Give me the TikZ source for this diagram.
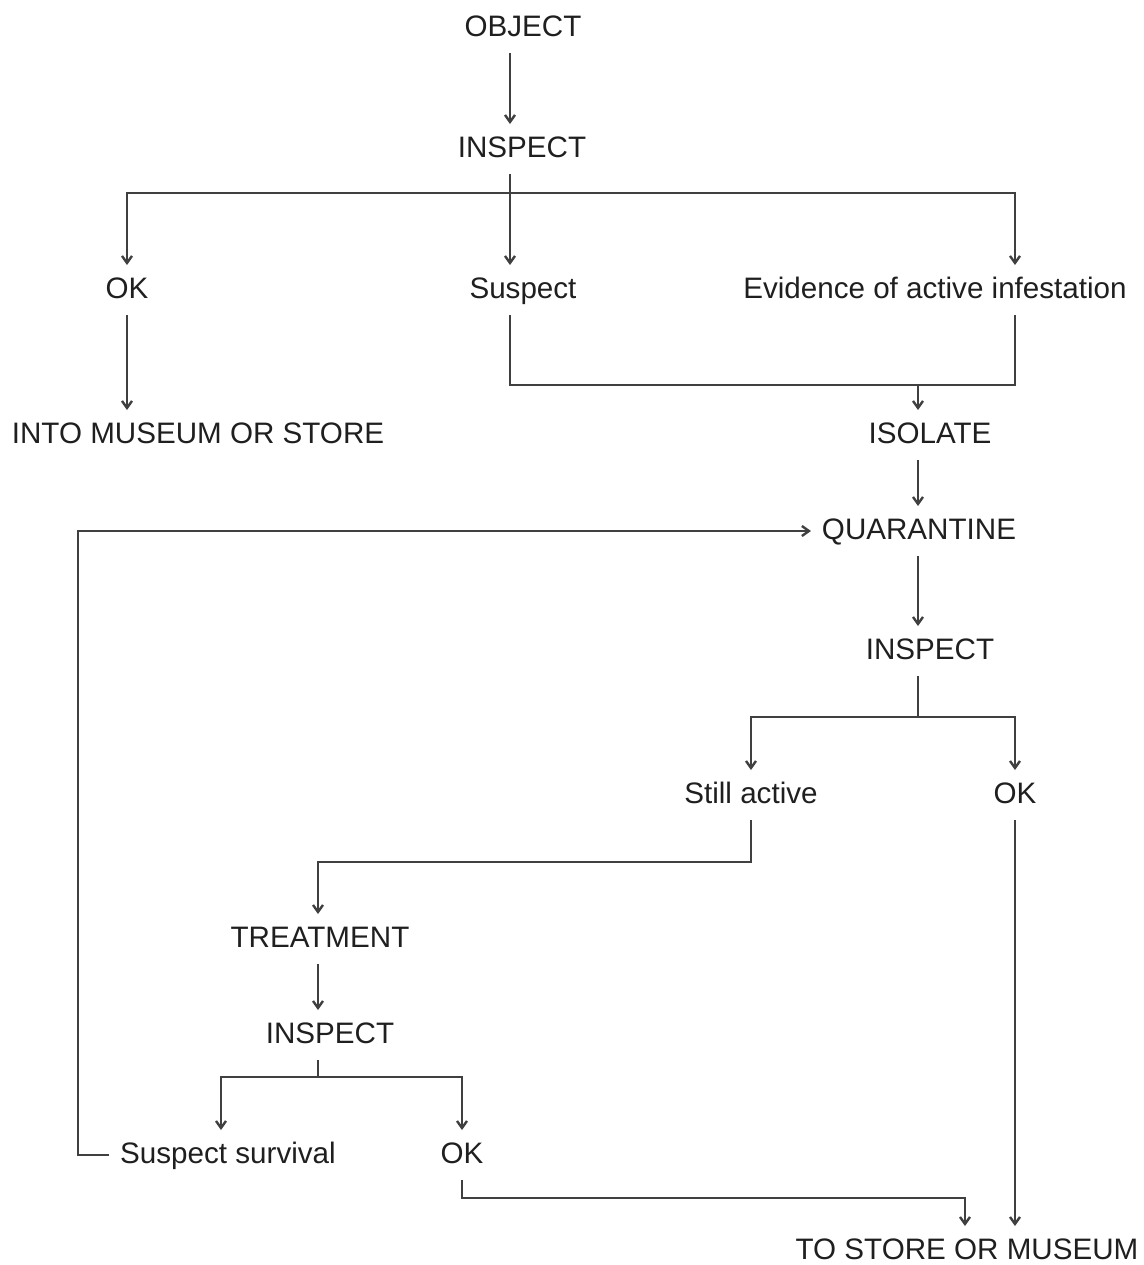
\documentclass[tikz,border=0pt]{standalone}
\usepackage{fontspec}
\setmainfont{Liberation Sans}
\usepackage{tikz}
\usetikzlibrary{arrows.meta}

\begin{document}
\begin{tikzpicture}[
  x=0.5pt, y=-0.5pt,
  lbl/.style={anchor=base, font=\fontsize{14.8pt}{18pt}\selectfont, text=black!88,
              text height=11pt, text depth=3pt, inner sep=4pt, outer sep=1.5pt},
  link/.style={line width=1.2pt, draw=black!75},
  arr/.style={link, -{Straight Barb[length=3.5pt,width=5pt]}}
]
\useasboundingbox (0,0) rectangle (1144,1265);

% Columns and rows of the connectors
\coordinate (colA) at (510,0);
\coordinate (colB) at (127,0);
\coordinate (colR) at (1015,0);
\coordinate (colI) at (918,0);
\coordinate (colS) at (751,0);
\coordinate (colT) at (318,0);
\coordinate (colV) at (221,0);
\coordinate (colO) at (462,0);
\coordinate (colX) at (965,0);
\coordinate (colL) at (78,0);
\coordinate (rowA) at (0,193);
\coordinate (rowB) at (0,385);
\coordinate (rowC) at (0,717);
\coordinate (rowD) at (0,862);
\coordinate (rowE) at (0,1077);
\coordinate (rowF) at (0,1198);

% First inspection
\node[lbl] (object) at (523,36) {OBJECT};
\node[lbl] (inspA) at (522,157) {INSPECT};
\node[lbl] (okA) at (127,298) {OK};
\node[lbl] (suspA) at (523,298) {Suspect};
\node[lbl] (evid) at (935,298) {Evidence of active infestation};
\node[lbl] (into) at (198,443) {INTO MUSEUM OR STORE};

% Isolation and quarantine
\node[lbl] (isolate) at (930,443) {ISOLATE};
\node[lbl] (quar) at (919,539) {QUARANTINE};
\node[lbl] (inspB) at (930,659) {INSPECT};
\node[lbl] (still) at (751,803) {Still active};
\node[lbl] (okB) at (1015,803) {OK};

% Treatment
\node[lbl] (treat) at (320,947) {TREATMENT};
\node[lbl] (inspC) at (330,1043) {INSPECT};
\node[lbl] (survive) at (228,1163) {Suspect survival};
\node[lbl] (okC) at (462,1163) {OK};
\node[lbl] (store) at (967,1259) {TO STORE OR MUSEUM};

% Arrows
\draw[arr] (object.south -| colA) -- (inspA.north -| colA);
\draw[arr] (inspA.south -| colA) -- (suspA.north -| colA);
\draw[arr] (rowA -| colA) -| (okA.north -| colB);
\draw[arr] (rowA -| colA) -| (evid.north -| colR);
\draw[arr] (okA.south -| colB) -- (into.north -| colB);
\draw[link] (suspA.south -| colA) |- (rowB -| colR) -- (evid.south -| colR);
\draw[arr] (rowB -| colI) -- (isolate.north -| colI);
\draw[arr] (isolate.south -| colI) -- (quar.north -| colI);
\draw[arr] (quar.south -| colI) -- (inspB.north -| colI);
\draw[link] (inspB.south -| colI) -- (rowC -| colI);
\draw[arr] (rowC -| colI) -| (still.north -| colS);
\draw[arr] (rowC -| colI) -| (okB.north -| colR);
\draw[arr] (still.south -| colS) |- (rowD -| colT) -- (treat.north -| colT);
\draw[arr] (treat.south -| colT) -- (inspC.north -| colT);
\draw[link] (inspC.south -| colT) -- (rowE -| colT);
\draw[arr] (rowE -| colT) -| (survive.north -| colV);
\draw[arr] (rowE -| colT) -| (okC.north -| colO);
\draw[arr] (survive.west) -- (survive.west -| colL) |- (quar.west);
\draw[arr] (okC.south -| colO) |- (rowF -| colX) -- (store.north -| colX);
\draw[arr] (okB.south -| colR) -- (store.north -| colR);

\end{tikzpicture}
\end{document}
